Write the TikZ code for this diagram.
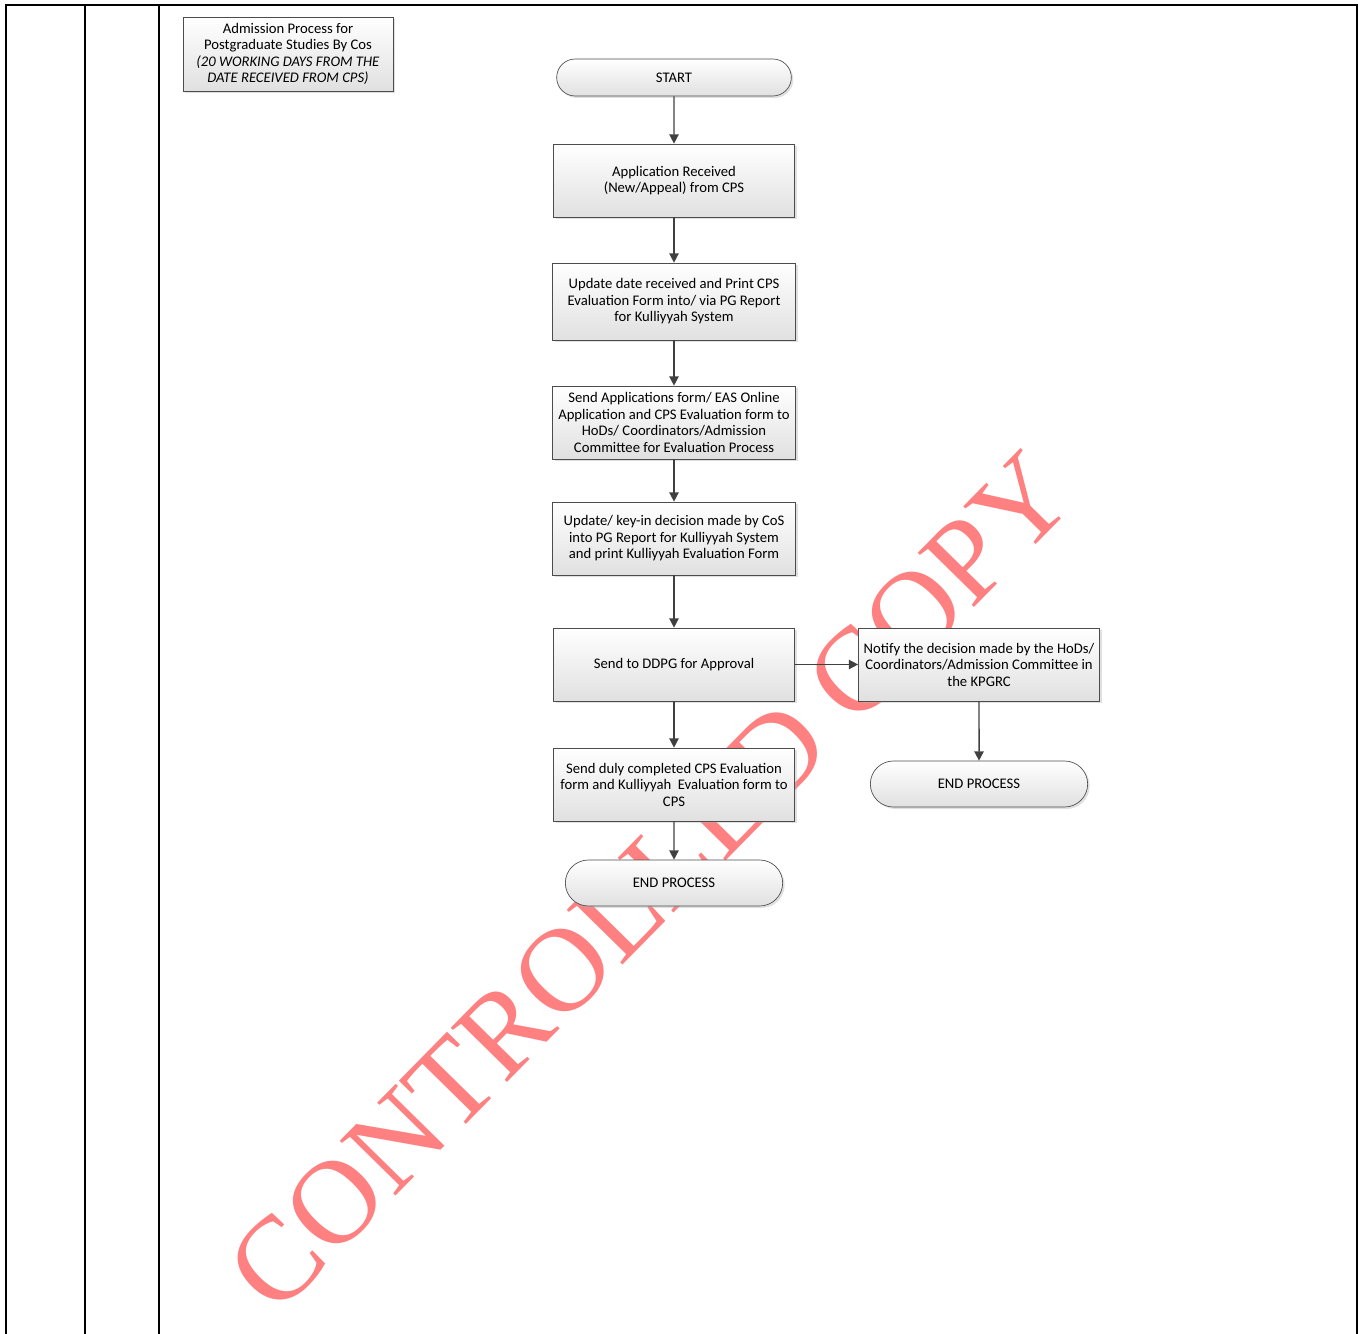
\documentclass[tikz,border=0pt]{standalone}
\usepackage{fontspec}
\setmainfont{Carlito}
\newfontfamily\wmfont{Liberation Serif}
\usetikzlibrary{positioning,shapes.misc,shadows,arrows.meta}

\begin{document}
\begin{tikzpicture}[
    x=0.75pt, y=0.75pt,
    every node/.style={font=\fontsize{11}{12.4}\selectfont},
    procbox/.style={rectangle, draw=black!70, line width=0.5pt, top color=white, bottom color=black!12,
        drop shadow={shadow xshift=1.5pt, shadow yshift=-1.5pt, fill=black!30, opacity=0.4},
        minimum width=180.75pt, minimum height=54.75pt, align=center, inner sep=2pt},
    termbox/.style={procbox, rounded rectangle, minimum width=167pt, minimum height=34.5pt},
    notebox/.style={procbox, minimum width=157.5pt, minimum height=55.5pt},
    arrow/.style={-{Triangle[length=7pt,width=7pt]}, line width=1.1pt, draw=black!75},
    frame/.style={line width=1.5pt},
    stamp/.style={font=\wmfont\fontsize{89.5}{89.5}\selectfont, text=red!50, inner sep=0pt}
]
\useasboundingbox (0,0) rectangle (1367,-1334);

%% ---- Watermark (behind everything) ----
\node[stamp, rotate=45.5] (stampText) at (650,-882) {CONTROLLED COPY};

%% ---- Table frame ----
\draw[frame] (6,-1334) |- (1357,-5) -- (1357,-1334);
\draw[frame] (85,-5) -- (85,-1334);
\draw[frame] (159,-5) -- (159,-1334);

%% ---- Title ----
\node[notebox] (title) at (288,-54) {Admission Process for\\Postgraduate Studies By Cos\\\textit{(20 WORKING DAYS FROM THE}\\\textit{DATE RECEIVED FROM CPS)}};

%% ---- Main column ----
\node[termbox, minimum width=180pt, minimum height=27.75pt] (start) at (674,-77.5) {START};
\node[procbox, below=35.5pt of start] (received) {Application Received\\(New/Appeal) from CPS};
\node[procbox, below=34pt of received, minimum width=182.25pt, minimum height=57.75pt] (printForm) {Update date received and Print CPS\\Evaluation Form into/ via PG Report\\for Kulliyyah System};
\node[procbox, below=34pt of printForm, minimum width=182.25pt] (sendHod) {Send Applications form/ EAS Online\\Application and CPS Evaluation form to\\HoDs/ Coordinators/Admission\\Committee for Evaluation Process};
\node[procbox, below=31.75pt of sendHod, minimum width=182.25pt] (keyIn) {Update/ key-in decision made by CoS\\into PG Report for Kulliyyah System\\and print Kulliyyah Evaluation Form};
\node[procbox, below=39.25pt of keyIn] (ddpg) {Send to DDPG for Approval};
\node[procbox, below=34.75pt of ddpg] (sendCps) {Send duly completed CPS Evaluation\\form and Kulliyyah~ Evaluation form to\\CPS};
\node[termbox, below=28.75pt of sendCps] (endA) {END PROCESS};

%% ---- Side branch ----
\node[procbox, right=47.5pt of ddpg] (notify) {Notify the decision made by the HoDs/\\Coordinators/Admission Committee in\\the KPGRC};
\node[termbox, below=44.5pt of notify] (endB) {END PROCESS};

%% ---- Arrows ----
\draw[arrow] (start) -- (received);
\draw[arrow] (received) -- (printForm);
\draw[arrow] (printForm) -- (sendHod);
\draw[arrow] (sendHod) -- (keyIn);
\draw[arrow] (keyIn) -- (ddpg);
\draw[arrow] (ddpg) -- (sendCps);
\draw[arrow] (sendCps) -- (endA);
\draw[arrow] (ddpg) -- (notify);
\draw[arrow] (notify) -- (endB);

\end{tikzpicture}
\end{document}
